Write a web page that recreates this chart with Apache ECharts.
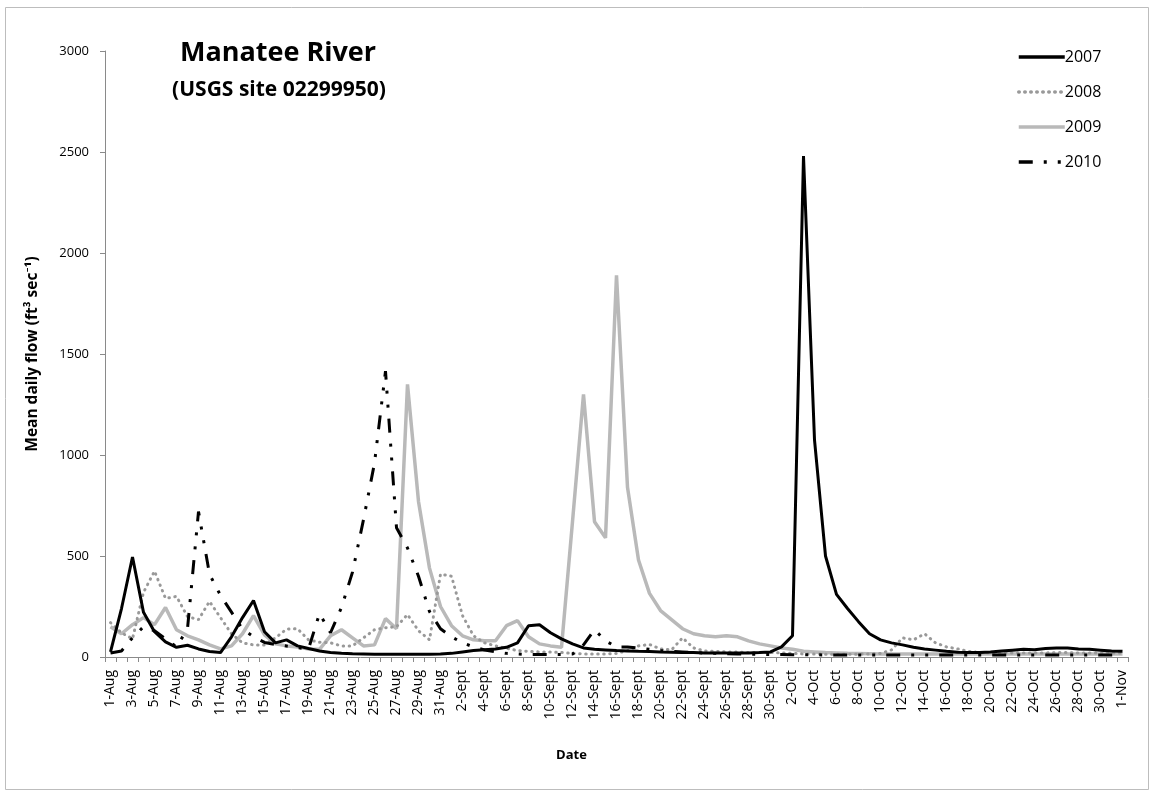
<!DOCTYPE html>
<html>
<head>
<meta charset="utf-8">
<title>Manatee River mean daily flow</title>
<script src="https://cdn.jsdelivr.net/npm/echarts@6/dist/echarts.min.js"></script>
<style>
  html, body { margin: 0; padding: 0; background: #fff; }
  #chart { width: 1155px; height: 798px; }
</style>
</head>
<body>
<div id="chart"></div>
<script>
// Month blocks for the daily category axis (1 Aug .. 1 Nov)
const monthNames = ['Aug', 'Sept', 'Oct', 'Nov'];
const monthDays = [31, 30, 31, 1];

// Mean daily flow, ft3/s, one value per day from 1 Aug to 1 Nov
const flow2007 = [
  25, 240, 495, 221, 125, 75, 48, 58, 40, 27, 22, 100, 195, 280, 125, 70, 85, 55, 42, 30,
  22, 18, 16, 15, 14, 14, 13, 13, 13, 14, 15, 18, 25, 32, 36, 40, 48, 70, 155, 160,
  120, 90, 65, 45, 38, 35, 32, 30, 28, 27, 25, 24, 22, 22, 20, 20, 20, 20, 20, 22,
  25, 50, 105, 2480, 1075, 500, 310, 240, 175, 115, 85, 70, 60, 48, 40, 34, 28, 24, 22, 22,
  25, 30, 34, 38, 36, 42, 45, 44, 40, 38, 34, 30, 28
];
const flow2008 = [
  170, 120, 90, 320, 425, 290, 300, 200, 185, 275, 195, 115, 70, 60, 60, 95, 138, 140, 85, 73,
  70, 55, 55, 95, 135, 145, 150, 210, 130, 85, 410, 400, 205, 105, 70, 55, 43, 32, 28, 25,
  25, 22, 18, 15, 15, 15, 18, 32, 55, 62, 40, 35, 95, 45, 30, 28, 25, 25, 22, 22,
  22, 20, 18, 15, 15, 14, 14, 14, 14, 15, 18, 35, 95, 85, 115, 70, 50, 40, 28, 22,
  20, 20, 20, 20, 20, 20, 22, 22, 20, 20, 20, 20, 20
];
const flow2009 = [
  150, 115, 160, 195, 160, 245, 135, 105, 85, 60, 40, 55, 115, 205, 110, 65, 55, 50, 40, 38,
  105, 135, 95, 55, 60, 190, 140, 1350, 770, 440, 250, 155, 105, 85, 80, 80, 155, 180, 100, 65,
  55, 48, 670, 1300, 670, 590, 1890, 840, 480, 315, 230, 185, 140, 115, 105, 100, 105, 100, 80, 65,
  55, 45, 38, 28, 25, 22, 20, 18, 17, 16, 15, 15, 15, 15, 15, 15, 15, 15, 15, 15,
  15, 15, 15, 15, 15, 15, 15, 15, 15, 15, 15, 15, 15
];
const flow2010 = [
  20, 30, 95, 150, 130, 90, 50, 140, 720, 410, 305, 222, 138, 100, 72, 62, 54, 46, 40, 215,
  120, 245, 420, 680, 960, 1415, 640, 540, 400, 225, 140, 100, 70, 50, 35, 25, 18, 15, 12, 12,
  12, 12, 15, 60, 135, 80, 50, 50, 45, 38, 32, 28, 25, 22, 20, 18, 16, 15, 14, 13,
  12, 12, 11, 11, 11, 10, 10, 10, 10, 10, 10, 10, 10, 10, 10, 10, 10, 10, 10, 10,
  10, 10, 10, 10, 10, 10, 10, 10, 10, 10, 10, 10, 10
];

const yTicks = { min: 0, max: 3000, step: 500 };

const days = [];
monthNames.forEach((m, i) => {
  for (let d = 1; d <= monthDays[i]; d++) days.push(d + '-' + m);
});

const FONT = '"Open Sans", Lato, sans-serif';
const chart = echarts.init(document.getElementById('chart'), null, { renderer: 'canvas' });

chart.setOption({
  backgroundColor: '#ffffff',
  animation: false,
  textStyle: { fontFamily: FONT },
  title: [
    {
      text: 'Manatee River',
      left: 273, top: 35, textAlign: 'center',
      textStyle: { fontFamily: FONT, fontSize: 27, fontWeight: 'bold', color: '#000' }
    },
    {
      text: '(USGS site 02299950)',
      left: 274, top: 75, textAlign: 'center',
      textStyle: { fontFamily: FONT, fontSize: 21, fontWeight: 'bold', color: '#000' }
    }
  ],
  legend: {
    orient: 'vertical',
    left: 1012, top: 44,
    itemWidth: 46, itemHeight: 14, itemGap: 19,
    itemStyle: { opacity: 0 },
    lineStyle: { width: 3.5 },
    textStyle: { fontFamily: FONT, fontSize: 16, color: '#000', padding: [0, 0, 0, -5] },
    data: ['2007', '2008', '2009', '2010']
  },
  grid: { left: 105, right: 27, top: 51, bottom: 141, containLabel: false },
  xAxis: {
    type: 'category',
    data: days,
    boundaryGap: true,
    name: 'Date',
    nameLocation: 'middle',
    nameGap: 92,
    nameTextStyle: { fontFamily: FONT, fontSize: 13, fontWeight: 'bold', color: '#000', padding: [0, 90, 0, 0] },
    axisLine: { lineStyle: { color: '#8a8a8a', width: 1 } },
    axisTick: { show: true, interval: 0, length: 5, lineStyle: { color: '#8a8a8a' } },
    axisLabel: { interval: 1, rotate: 90, margin: 13, fontFamily: FONT, fontSize: 14, color: '#000' },
    splitLine: { show: false }
  },
  yAxis: {
    type: 'value',
    min: yTicks.min, max: yTicks.max, interval: yTicks.step,
    name: 'Mean daily flow (ft³ sec⁻¹)',
    nameLocation: 'middle',
    nameGap: 64,
    nameRotate: 90,
    nameTextStyle: { fontFamily: FONT, fontSize: 15.5, fontWeight: 'bold', color: '#000' },
    axisLine: { show: true, lineStyle: { color: '#8a8a8a', width: 1 } },
    axisTick: { show: true, length: 5, lineStyle: { color: '#8a8a8a' } },
    axisLabel: { margin: 16, fontFamily: FONT, fontSize: 13, color: '#000', formatter: v => String(v) },
    splitLine: { show: false }
  },
  graphic: [
    {
      type: 'rect', silent: true, z: -1,
      shape: { x: 5.5, y: 7.5, width: 1143, height: 782 },
      style: { fill: 'none', stroke: '#bdbdbd', lineWidth: 1 }
    }
  ],
  series: [
    {
      name: '2009', type: 'line', data: flow2009, showSymbol: false, symbol: 'none', z: 1,
      lineStyle: { color: '#b9b9b9', width: 3.5 }, itemStyle: { color: '#b9b9b9' }
    },
    {
      name: '2008', type: 'line', data: flow2008, showSymbol: false, symbol: 'none', z: 2,
      lineStyle: { color: '#999999', width: 3, type: [0.5, 5.5], cap: 'round' },
      itemStyle: { color: '#999999' }
    },
    {
      name: '2010', type: 'line', data: flow2010, showSymbol: false, symbol: 'none', z: 3,
      lineStyle: { color: '#000000', width: 3, type: [14, 11, 3, 11, 3, 11] },
      itemStyle: { color: '#000000' }
    },
    {
      name: '2007', type: 'line', data: flow2007, showSymbol: false, symbol: 'none', z: 4,
      lineStyle: { color: '#000000', width: 3 }, itemStyle: { color: '#000000' }
    }
  ]
});
</script>
</body>
</html>
